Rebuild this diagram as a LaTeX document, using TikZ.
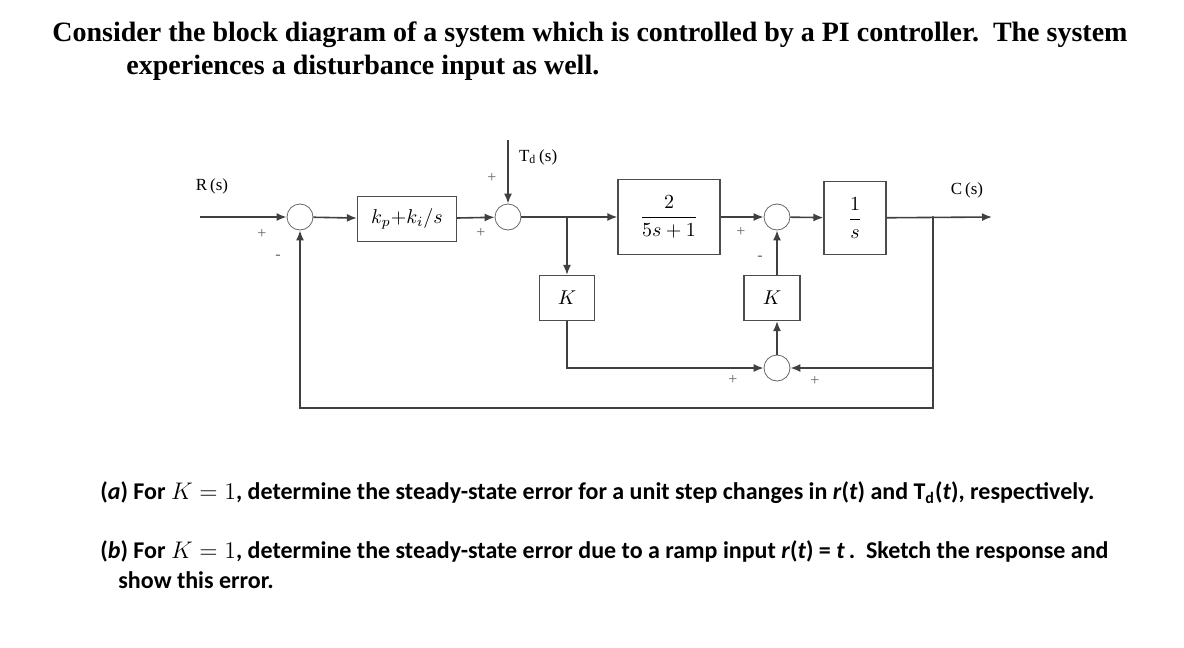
\documentclass[tikz,border=0pt]{standalone}
\usepackage{fontspec}
\setmainfont{Liberation Serif}
\newfontfamily\qfont{Carlito}
\usetikzlibrary{arrows.meta}
\begin{document}
\begin{tikzpicture}[x=0.5pt,y=-0.5pt,
  blk/.style={draw=black!70,line width=0.6pt,inner sep=0pt},
  sumc/.style={draw=black!60,circle,minimum size=13pt,inner sep=0pt},
  sig/.style={line width=0.8pt,draw=black!75,-{Latex[length=5pt,width=4pt]}},
  ln/.style={line width=0.8pt,draw=black!75},
  sg/.style={font=\fontsize{8}{8}\selectfont,text=black!60},
  txt/.style={anchor=west,inner sep=0pt}]
\useasboundingbox (0,0) rectangle (1184,648);
\node[txt,font=\fontsize{14}{15}\selectfont\bfseries] at (52,35) {Consider the block diagram of a system which is controlled by a PI controller.\ \ The system};
\node[txt,font=\fontsize{14}{15}\selectfont\bfseries] at (126,68) {experiences a disturbance input as well.};
% nodes
\coordinate (rin) at (200,217);
\node[sumc] (s1) at (300,217) {};
\node[blk,minimum width=49.5pt,minimum height=22.5pt] (pi) at (407,219) {$k_p{+}k_i/s$};
\node[sumc] (s2) at (508,217) {};
\coordinate (td) at (508,140);
\node[font=\fontsize{8.5}{8}\selectfont,anchor=west] (tdl) at (512,157) {T\textsubscript{d}\,(s)};
\coordinate (b1) at (567,217);
\node[blk,minimum width=51pt,minimum height=37.5pt] (g) at (669,217) {$\displaystyle\frac{2}{5s+1}$};
\node[sumc] (s3) at (777,217) {};
\node[blk,minimum width=31pt,minimum height=36.5pt] (int) at (855,218) {$\displaystyle\frac{1}{s}$};
\coordinate (b2) at (933,217);
\coordinate (out) at (992,217);
\node[font=\fontsize{8.5}{8}\selectfont] at (967,190) {C\,(s)};
\node[font=\fontsize{8.5}{8}\selectfont] at (212,186) {R\,(s)};
\node[blk,minimum width=27.5pt,minimum height=22.5pt] (k1) at (567,298) {$K$};
\node[blk,minimum width=28pt,minimum height=22.5pt] (k2) at (772,298) {$K$};
\node[sumc] (s4) at (777,368) {};
\coordinate (bot) at (933,408);
% connections
\draw[sig] (rin) -- (s1);
\draw[sig] (s1) -- (pi);
\draw[sig] (pi) -- (s2);
\draw[sig] (td) -- (s2);
\draw[sig] (s2) -- (g);
\draw[sig] (b1) -- (k1);
\draw[sig] (g) -- (s3);
\draw[sig] (s3) -- (int);
\draw[sig] (int) -- (out);
\draw[sig] (k2.north -| s3) -- (s3);
\draw[sig] (s4) -- (k2.south -| s4);
\draw[sig] (k1.south) |- (s4);
\draw[sig] (b2) |- (s4);
\draw[sig] (b2) |- (bot) -| (s1);
\fill[black!75] (b1) circle (0.6pt) (b2) circle (0.6pt);
% signs
\node[sg] at (262,234) {+};
\node[sg] at (278,257) {-};
\node[sg] at (492,178) {+};
\node[sg] at (481,233) {+};
\node[sg] at (741,232) {+};
\node[sg] at (760,258) {-};
\node[sg] at (733,380) {+};
\node[sg] at (815,381) {+};
% questions
\node[txt,font=\qfont\fontsize{12}{13}\selectfont\bfseries] at (100,493) {(\textit{a}) For $K=1$, determine the steady-state error for a unit step changes in \textit{r}(\textit{t}) and T\textsubscript{d}(\textit{t}), respectively.};
\node[txt,font=\qfont\fontsize{12}{13}\selectfont\bfseries] at (100,551) {(\textit{b}) For $K=1$, determine the steady-state error due to a ramp input \textit{r}(\textit{t}) = \textit{t}\,.\ \ Sketch the response and};
\node[txt,font=\qfont\fontsize{12}{13}\selectfont\bfseries] at (118,580) {show this error.};
\end{tikzpicture}
\end{document}
